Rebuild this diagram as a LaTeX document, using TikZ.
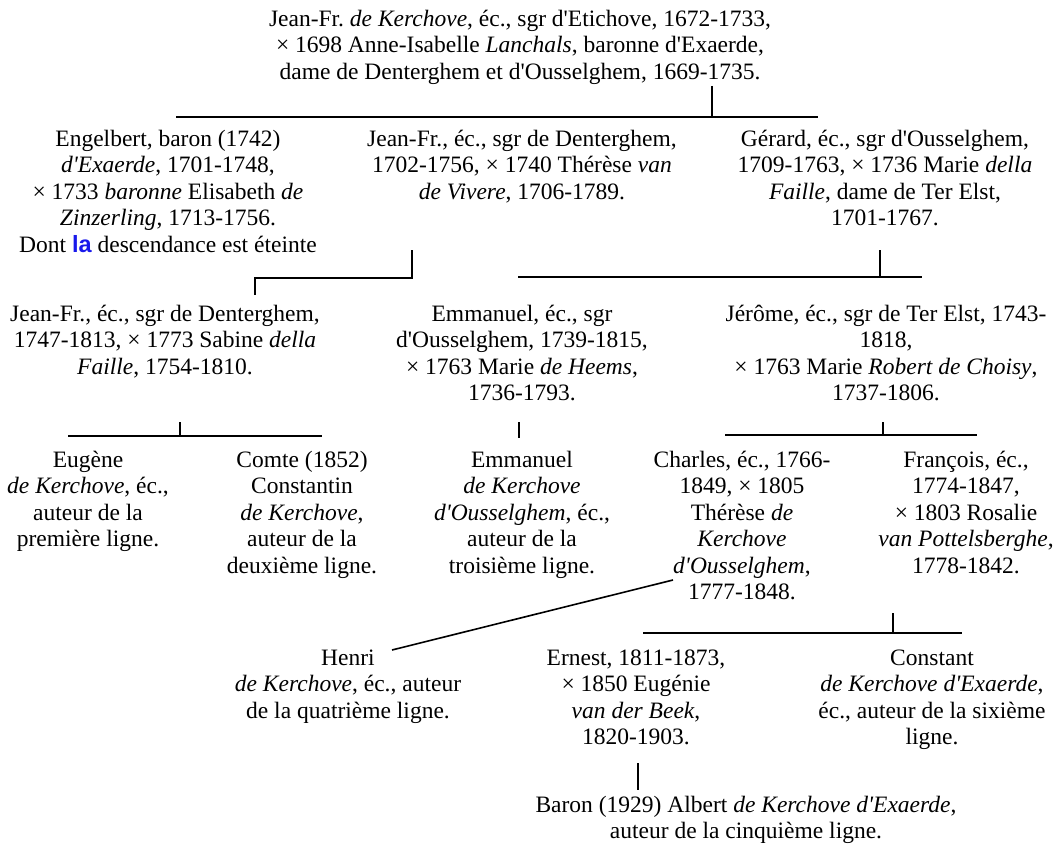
\documentclass[tikz,border=0pt]{standalone}
\usepackage{fontspec}
\setmainfont{Liberation Serif}[Ligatures=TeXOff]
\newfontfamily\blueword{Liberation Sans}
\definecolor{wordblue}{RGB}{25,25,235}
\frenchspacing
\tikzset{
    person/.style={anchor=north,align=center,inner sep=0pt,
        font=\fontsize{23.5}{26.5}\selectfont,execute at begin node=\strut},
    line/.style={line width=1.6pt},
}
\begin{document}
\begin{tikzpicture}[x=1pt,y=-1pt]
    \useasboundingbox (0,0) rectangle (1060,845);
    %% Generation 1
    \node[person] (jeanfr) at (520,9.5) {Jean-Fr. \textit{de Kerchove}, éc., sgr d'Etichove, 1672-1733,\\
        × 1698 Anne-Isabelle \textit{Lanchals}, baronne d'Exaerde,\\
        dame de Denterghem et d'Ousselghem, 1669-1735.};
    %% Generation 2
    \node[person] (engelbert) at (168,129.5) {Engelbert, baron (1742)\\
        \textit{d'Exaerde}, 1701-1748,\\
        × 1733 \textit{baronne} Elisabeth \textit{de}\\
        \textit{Zinzerling}, 1713-1756.\\
        Dont {\blueword\bfseries\color{wordblue}la} descendance est éteinte};
    \node[person] (jeanfrii) at (522,129.5) {Jean-Fr., éc., sgr de Denterghem,\\
        1702-1756, × 1740 Thérèse \textit{van}\\
        \textit{de Vivere}, 1706-1789.};
    \node[person] (gerard) at (885,129.5) {Gérard, éc., sgr d'Ousselghem,\\
        1709-1763, × 1736 Marie \textit{della}\\
        \textit{Faille}, dame de Ter Elst,\\
        1701-1767.};
    %% Generation 3
    \node[person] (jeanfriii) at (165,304.5) {Jean-Fr., éc., sgr de Denterghem,\\
        1747-1813, × 1773 Sabine \textit{della}\\
        \textit{Faille}, 1754-1810.};
    \node[person] (emmanuel) at (522,304.5) {Emmanuel, éc., sgr\\
        d'Ousselghem, 1739-1815,\\
        × 1763 Marie \textit{de Heems},\\
        1736-1793.};
    \node[person] (jerome) at (886,304.5) {Jérôme, éc., sgr de Ter Elst, 1743-\\
        1818,\\
        × 1763 Marie \textit{Robert de Choisy},\\
        1737-1806.};
    %% Generation 4
    \node[person] (eugene) at (88,450.5) {Eugène\\
        \textit{de Kerchove}, éc.,\\
        auteur de la\\
        première ligne.};
    \node[person] (constantin) at (302,450.5) {Comte (1852)\\
        Constantin\\
        \textit{de Kerchove},\\
        auteur de la\\
        deuxième ligne.};
    \node[person] (emmanuelii) at (522,450.5) {Emmanuel\\
        \textit{de Kerchove}\\
        \textit{d'Ousselghem}, éc.,\\
        auteur de la\\
        troisième ligne.};
    \node[person] (charles) at (742,450.5) {Charles, éc., 1766-\\
        1849, × 1805\\
        Thérèse \textit{de}\\
        \textit{Kerchove}\\
        \textit{d'Ousselghem},\\
        1777-1848.};
    \node[person] (francois) at (966,450.5) {François, éc.,\\
        1774-1847,\\
        × 1803 Rosalie\\
        \textit{van Pottelsberghe},\\
        1778-1842.};
    %% Generation 5
    \node[person] (henri) at (348,649.5) {Henri\\
        \textit{de Kerchove}, éc., auteur\\
        de la quatrième ligne.};
    \node[person] (ernest) at (636,649.5) {Ernest, 1811-1873,\\
        × 1850 Eugénie\\
        \textit{van der Beek},\\
        1820-1903.};
    \node[person] (constant) at (932,649.5) {Constant\\
        \textit{de Kerchove d'Exaerde},\\
        éc., auteur de la sixième\\
        ligne.};
    \node[person] (albert) at (746,795.5) {Baron (1929) Albert \textit{de Kerchove d'Exaerde},\\
        auteur de la cinquième ligne.};
    %% Lines
    \coordinate (jeanfr-t) at (712,86);
    \coordinate (jeanfr-b) at (712,117);
    \coordinate (jeanfr-l) at (176,117);
    \coordinate (jeanfr-r) at (818,117);
    \draw[line] (jeanfr-l) -- (jeanfr-r);
    \draw[line] (jeanfr-t) -- (jeanfr-b);
    \coordinate (jeanfrii-t) at (412,250);
    \coordinate (jeanfrii-b) at (412,278);
    \coordinate (jeanfriii-t) at (255,278);
    \coordinate (jeanfriii-b) at (255,295);
    \draw[line] (jeanfrii-t) -- (jeanfrii-b) -- (jeanfriii-t) -- (jeanfriii-b);
    \coordinate (gerard-t) at (880,250);
    \coordinate (gerard-b) at (880,277);
    \coordinate (gerard-l) at (518,277);
    \coordinate (gerard-r) at (922,277);
    \draw[line] (gerard-l) -- (gerard-r);
    \draw[line] (gerard-t) -- (gerard-b);
    \coordinate (jeanfriii-tt) at (180,422);
    \coordinate (jeanfriii-bb) at (180,436);
    \coordinate (jeanfriii-l) at (68,436);
    \coordinate (jeanfriii-r) at (322,436);
    \draw[line] (jeanfriii-l) -- (jeanfriii-r);
    \draw[line] (jeanfriii-tt) -- (jeanfriii-bb);
    \coordinate (emmanuel-t) at (519,422);
    \coordinate (emmanuel-b) at (519,438);
    \draw[line] (emmanuel-t) -- (emmanuel-b);
    \coordinate (jerome-t) at (883,422);
    \coordinate (jerome-b) at (883,435);
    \coordinate (jerome-l) at (725,435);
    \coordinate (jerome-r) at (977,435);
    \draw[line] (jerome-l) -- (jerome-r);
    \draw[line] (jerome-t) -- (jerome-b);
    \coordinate (charles-e) at (673,580);
    \coordinate (henri-e) at (392,650);
    \draw[line] (charles-e) -- (henri-e);
    \coordinate (francois-t) at (893,613);
    \coordinate (francois-b) at (893,633);
    \coordinate (francois-l) at (643,633);
    \coordinate (francois-r) at (962,633);
    \draw[line] (francois-l) -- (francois-r);
    \draw[line] (francois-t) -- (francois-b);
    \coordinate (ernest-b) at (638,763);
    \coordinate (albert-t) at (638,790);
    \draw[line] (ernest-b) -- (albert-t);
\end{tikzpicture}
\end{document}
